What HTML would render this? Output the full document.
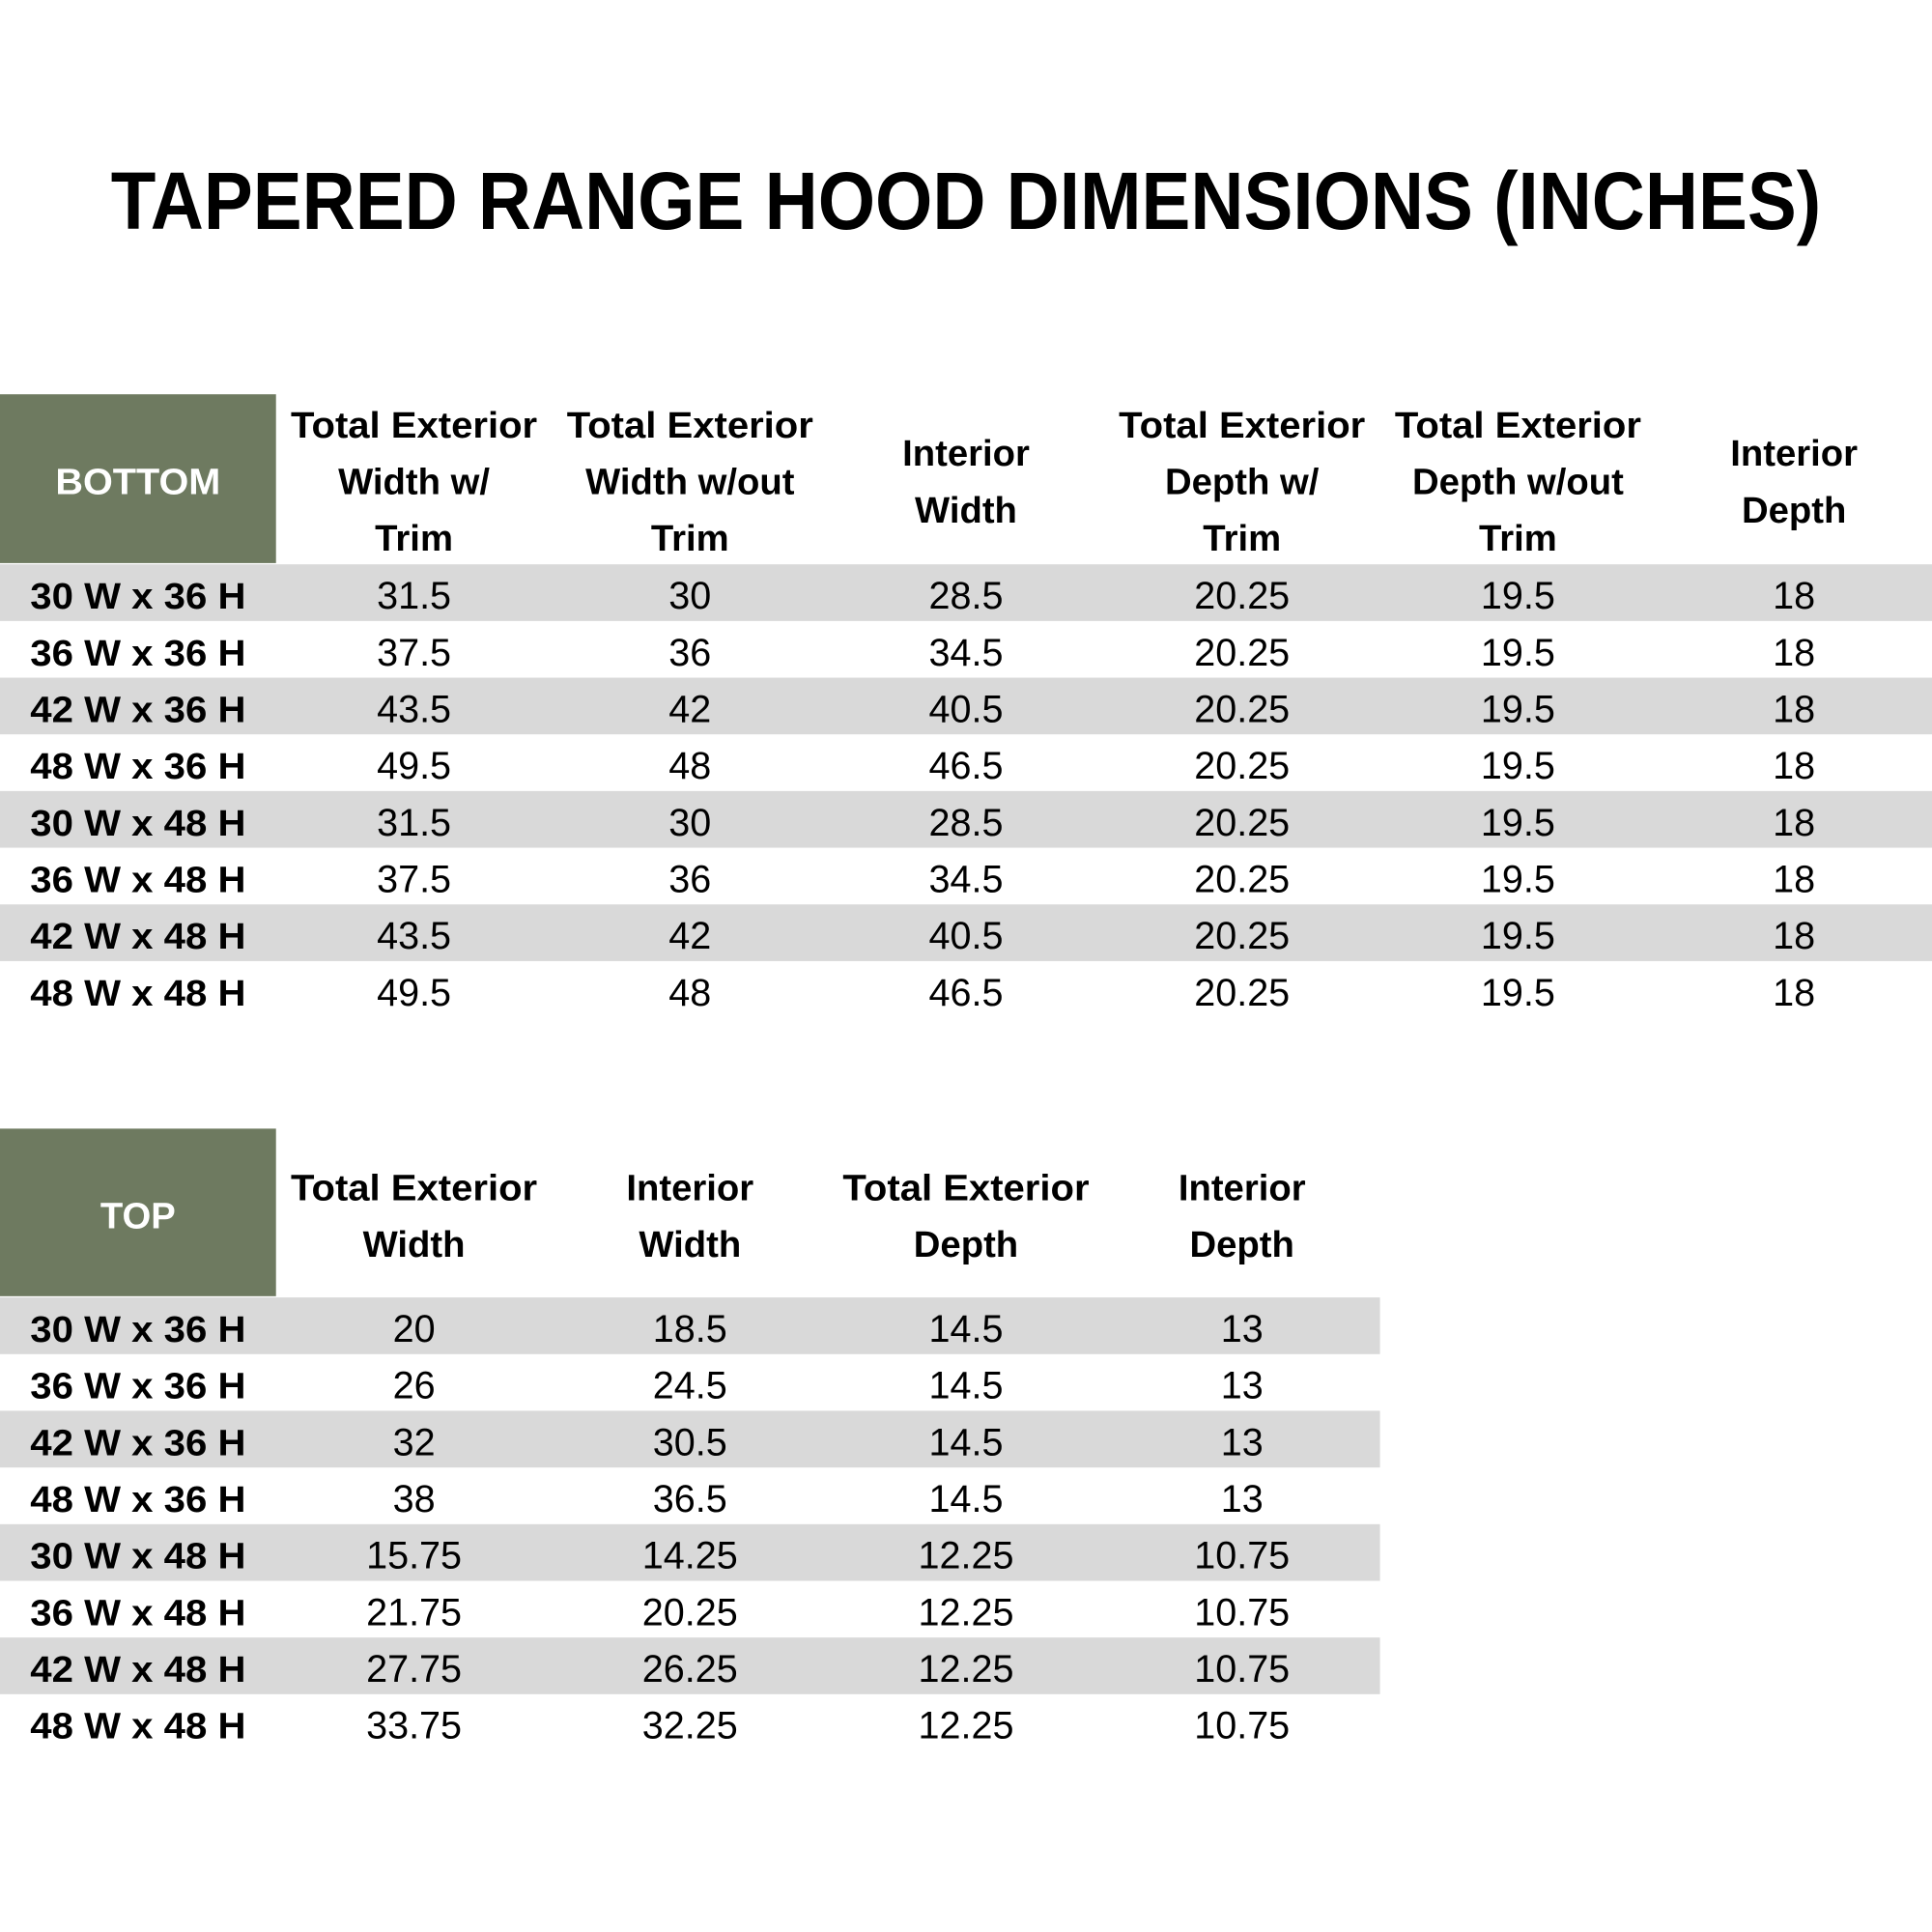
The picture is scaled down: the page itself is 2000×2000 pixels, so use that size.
<!DOCTYPE html>
<html><head><meta charset="utf-8"><style>html,body{margin:0;padding:0;background:#fff}svg{display:block}</style></head>
<body>
<svg width="2000" height="2000" viewBox="0 0 1568 1568" xmlns="http://www.w3.org/2000/svg" font-family="'Liberation Sans', sans-serif">
<rect width="1568" height="1568" fill="#fff"/>
<text x="90" y="186" font-size="66" font-weight="bold" textLength="1388" lengthAdjust="spacingAndGlyphs" fill="#000">TAPERED RANGE HOOD DIMENSIONS (INCHES)</text>

<!-- Table 1 -->
<rect x="0" y="320" width="224" height="137" fill="#6e7a60"/>
<g fill="#d9d9d9">
<rect x="0" y="458" width="1568" height="46"/>
<rect x="0" y="550" width="1568" height="46"/>
<rect x="0" y="642" width="1568" height="46"/>
<rect x="0" y="734" width="1568" height="46"/>
</g>
<g font-size="30" font-weight="bold" text-anchor="middle" fill="#000">
<text x="112" y="401" fill="#fff" textLength="134" lengthAdjust="spacingAndGlyphs">BOTTOM</text>
<text x="336" y="355" textLength="200" lengthAdjust="spacingAndGlyphs">Total Exterior</text><text x="336" y="401">Width w/</text><text x="336" y="447">Trim</text>
<text x="560" y="355" textLength="200" lengthAdjust="spacingAndGlyphs">Total Exterior</text><text x="560" y="401">Width w/out</text><text x="560" y="447">Trim</text>
<text x="784" y="378">Interior</text><text x="784" y="424">Width</text>
<text x="1008" y="355" textLength="200" lengthAdjust="spacingAndGlyphs">Total Exterior</text><text x="1008" y="401">Depth w/</text><text x="1008" y="447">Trim</text>
<text x="1232" y="355" textLength="200" lengthAdjust="spacingAndGlyphs">Total Exterior</text><text x="1232" y="401">Depth w/out</text><text x="1232" y="447">Trim</text>
<text x="1456" y="378">Interior</text><text x="1456" y="424">Depth</text>
</g>
<g font-size="30" font-weight="bold" text-anchor="middle">
<text x="112" y="494" textLength="175" lengthAdjust="spacingAndGlyphs">30 W x 36 H</text><text x="112" y="540" textLength="175" lengthAdjust="spacingAndGlyphs">36 W x 36 H</text><text x="112" y="586" textLength="175" lengthAdjust="spacingAndGlyphs">42 W x 36 H</text><text x="112" y="632" textLength="175" lengthAdjust="spacingAndGlyphs">48 W x 36 H</text>
<text x="112" y="678" textLength="175" lengthAdjust="spacingAndGlyphs">30 W x 48 H</text><text x="112" y="724" textLength="175" lengthAdjust="spacingAndGlyphs">36 W x 48 H</text><text x="112" y="770" textLength="175" lengthAdjust="spacingAndGlyphs">42 W x 48 H</text><text x="112" y="816" textLength="175" lengthAdjust="spacingAndGlyphs">48 W x 48 H</text>
</g>
<g font-size="31" text-anchor="middle">
<text x="336" y="494">31.5</text><text x="560" y="494">30</text><text x="784" y="494">28.5</text><text x="1008" y="494">20.25</text><text x="1232" y="494">19.5</text><text x="1456" y="494">18</text>
<text x="336" y="540">37.5</text><text x="560" y="540">36</text><text x="784" y="540">34.5</text><text x="1008" y="540">20.25</text><text x="1232" y="540">19.5</text><text x="1456" y="540">18</text>
<text x="336" y="586">43.5</text><text x="560" y="586">42</text><text x="784" y="586">40.5</text><text x="1008" y="586">20.25</text><text x="1232" y="586">19.5</text><text x="1456" y="586">18</text>
<text x="336" y="632">49.5</text><text x="560" y="632">48</text><text x="784" y="632">46.5</text><text x="1008" y="632">20.25</text><text x="1232" y="632">19.5</text><text x="1456" y="632">18</text>
<text x="336" y="678">31.5</text><text x="560" y="678">30</text><text x="784" y="678">28.5</text><text x="1008" y="678">20.25</text><text x="1232" y="678">19.5</text><text x="1456" y="678">18</text>
<text x="336" y="724">37.5</text><text x="560" y="724">36</text><text x="784" y="724">34.5</text><text x="1008" y="724">20.25</text><text x="1232" y="724">19.5</text><text x="1456" y="724">18</text>
<text x="336" y="770">43.5</text><text x="560" y="770">42</text><text x="784" y="770">40.5</text><text x="1008" y="770">20.25</text><text x="1232" y="770">19.5</text><text x="1456" y="770">18</text>
<text x="336" y="816">49.5</text><text x="560" y="816">48</text><text x="784" y="816">46.5</text><text x="1008" y="816">20.25</text><text x="1232" y="816">19.5</text><text x="1456" y="816">18</text>
</g>

<!-- Table 2 -->
<rect x="0" y="916" width="224" height="136" fill="#6e7a60"/>
<g fill="#d9d9d9">
<rect x="0" y="1053" width="1120" height="46"/>
<rect x="0" y="1145" width="1120" height="46"/>
<rect x="0" y="1237" width="1120" height="46"/>
<rect x="0" y="1329" width="1120" height="46"/>
</g>
<g font-size="30" font-weight="bold" text-anchor="middle" fill="#000">
<text x="112" y="997" fill="#fff">TOP</text>
<text x="336" y="974" textLength="200" lengthAdjust="spacingAndGlyphs">Total Exterior</text><text x="336" y="1020">Width</text>
<text x="560" y="974">Interior</text><text x="560" y="1020">Width</text>
<text x="784" y="974" textLength="200" lengthAdjust="spacingAndGlyphs">Total Exterior</text><text x="784" y="1020">Depth</text>
<text x="1008" y="974">Interior</text><text x="1008" y="1020">Depth</text>
</g>
<g font-size="30" font-weight="bold" text-anchor="middle">
<text x="112" y="1089" textLength="175" lengthAdjust="spacingAndGlyphs">30 W x 36 H</text><text x="112" y="1135" textLength="175" lengthAdjust="spacingAndGlyphs">36 W x 36 H</text><text x="112" y="1181" textLength="175" lengthAdjust="spacingAndGlyphs">42 W x 36 H</text><text x="112" y="1227" textLength="175" lengthAdjust="spacingAndGlyphs">48 W x 36 H</text>
<text x="112" y="1273" textLength="175" lengthAdjust="spacingAndGlyphs">30 W x 48 H</text><text x="112" y="1319" textLength="175" lengthAdjust="spacingAndGlyphs">36 W x 48 H</text><text x="112" y="1365" textLength="175" lengthAdjust="spacingAndGlyphs">42 W x 48 H</text><text x="112" y="1411" textLength="175" lengthAdjust="spacingAndGlyphs">48 W x 48 H</text>
</g>
<g font-size="31" text-anchor="middle">
<text x="336" y="1089">20</text><text x="560" y="1089">18.5</text><text x="784" y="1089">14.5</text><text x="1008" y="1089">13</text>
<text x="336" y="1135">26</text><text x="560" y="1135">24.5</text><text x="784" y="1135">14.5</text><text x="1008" y="1135">13</text>
<text x="336" y="1181">32</text><text x="560" y="1181">30.5</text><text x="784" y="1181">14.5</text><text x="1008" y="1181">13</text>
<text x="336" y="1227">38</text><text x="560" y="1227">36.5</text><text x="784" y="1227">14.5</text><text x="1008" y="1227">13</text>
<text x="336" y="1273">15.75</text><text x="560" y="1273">14.25</text><text x="784" y="1273">12.25</text><text x="1008" y="1273">10.75</text>
<text x="336" y="1319">21.75</text><text x="560" y="1319">20.25</text><text x="784" y="1319">12.25</text><text x="1008" y="1319">10.75</text>
<text x="336" y="1365">27.75</text><text x="560" y="1365">26.25</text><text x="784" y="1365">12.25</text><text x="1008" y="1365">10.75</text>
<text x="336" y="1411">33.75</text><text x="560" y="1411">32.25</text><text x="784" y="1411">12.25</text><text x="1008" y="1411">10.75</text>
</g>
</svg>
</body></html>
